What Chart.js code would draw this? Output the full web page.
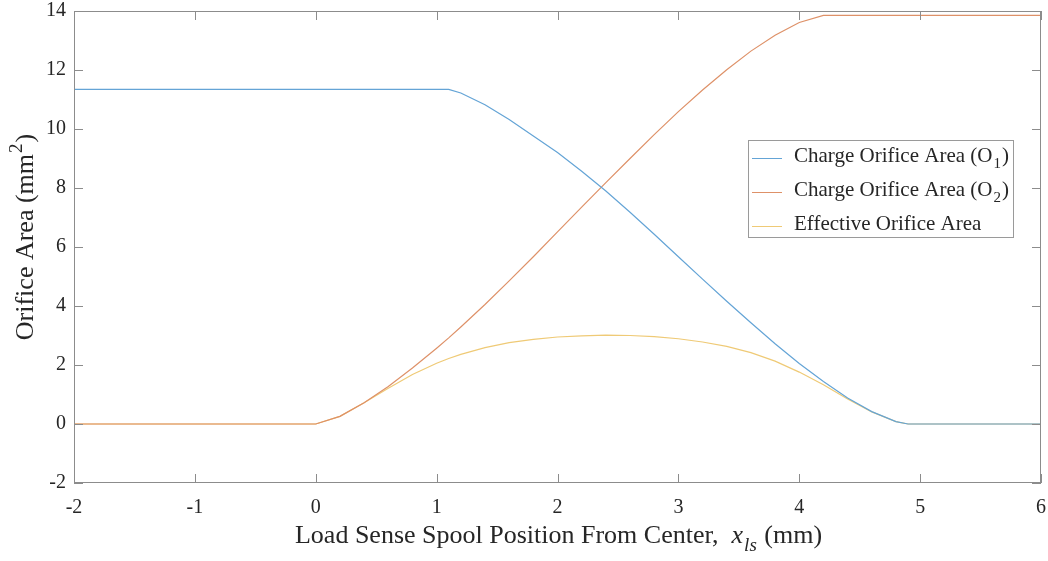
<!DOCTYPE html>
<html>
<head>
<meta charset="utf-8">
<script src="https://cdn.jsdelivr.net/npm/chart.js@4/dist/chart.umd.min.js"></script>
<style>
  html, body { margin: 0; padding: 0; background: #fff; }
  #wrap { width: 1048px; height: 561px; }
</style>
</head>
<body>
<div id="wrap"><canvas id="chart_orifice"></canvas></div>
<script>
// spool position (mm)
var positions = [-2, 0, 0.2, 0.4, 0.6, 0.8, 1.0, 1.1, 1.2, 1.4, 1.6, 1.8, 2.0, 2.2, 2.4, 2.6, 2.8,
	3.0, 3.2, 3.4, 3.6, 3.8, 4.0, 4.2, 4.4, 4.6, 4.8, 4.9, 6];

// orifice areas (mm^2)
var areaO1 = [11.34, 11.34, 11.34, 11.34, 11.34, 11.34, 11.34, 11.34, 11.22, 10.82, 10.32, 9.76, 9.20, 8.57, 7.90, 7.18, 6.43,
	5.67, 4.91, 4.16, 3.43, 2.72, 2.05, 1.44, 0.88, 0.42, 0.08, 0, 0];
var areaO2 = [0, 0, 0.26, 0.72, 1.27, 1.90, 2.57, 2.92, 3.29, 4.05, 4.85, 5.67, 6.51, 7.35, 8.18, 9.00, 9.81,
	10.59, 11.32, 12.01, 12.64, 13.18, 13.61, 13.85, 13.85, 13.85, 13.85, 13.85, 13.85];
var areaEff = [0, 0, 0.26, 0.72, 1.21, 1.68, 2.06, 2.22, 2.36, 2.59, 2.76, 2.87, 2.95, 2.99, 3.01, 3.00, 2.96,
	2.89, 2.78, 2.63, 2.42, 2.13, 1.76, 1.33, 0.85, 0.41, 0.08, 0, 0];

var seriesNames = ['Charge Orifice Area (O', 'Charge Orifice Area (O', 'Effective Orifice Area'];
var seriesSubs = ['1', '2', ''];
var seriesColors = ['#64a4d6', '#de9168', '#efca76'];

var xTicks = [-2, -1, 0, 1, 2, 3, 4, 5, 6];
var yTicks = [-2, 0, 2, 4, 6, 8, 10, 12, 14];

var serif = '"Liberation Serif", "Times New Roman", serif';

function pairs(ys) {
	return positions.map(function (x, i) { return { x: x, y: ys[i] }; });
}

var frame = {
	id: 'frame',
	afterDraw: function (chart) {
		var ctx = chart.ctx;
		var a = chart.chartArea;
		var sx = chart.scales.x;
		var sy = chart.scales.y;
		ctx.save();
		ctx.strokeStyle = '#8c8c8c';
		ctx.lineWidth = 1;
		ctx.strokeRect(Math.round(a.left) + 0.5, Math.round(a.top) + 0.5,
			Math.round(a.right - a.left) - 1, Math.round(a.bottom - a.top) - 1);
		ctx.beginPath();
		xTicks.forEach(function (v) {
			var p = Math.round(sx.getPixelForValue(v)) + 0.5;
			ctx.moveTo(p, a.bottom); ctx.lineTo(p, a.bottom - 9);
			ctx.moveTo(p, a.top); ctx.lineTo(p, a.top + 9);
		});
		yTicks.forEach(function (v) {
			var p = Math.round(sy.getPixelForValue(v)) + 0.5;
			ctx.moveTo(a.left, p); ctx.lineTo(a.left + 9, p);
			ctx.moveTo(a.right, p); ctx.lineTo(a.right - 9, p);
		});
		ctx.stroke();

		ctx.fillStyle = '#262626';
		ctx.textBaseline = 'alphabetic';

		// x axis title with italic subscript
		var base = 543;
		var t1 = 'Load Sense Spool Position From Center,  ';
		ctx.font = '26px ' + serif;
		var w1 = ctx.measureText(t1).width;
		ctx.font = 'italic 26px ' + serif;
		var w2 = ctx.measureText('x').width;
		ctx.font = 'italic 19px ' + serif;
		var w3 = ctx.measureText('ls').width;
		ctx.font = '26px ' + serif;
		var w4 = ctx.measureText(' (mm)').width;
		var x0 = (a.left + a.right) / 2 - (w1 + w2 + w3 + w4) / 2;
		ctx.fillText(t1, x0, base);
		ctx.font = 'italic 26px ' + serif;
		ctx.fillText('x', x0 + w1, base);
		ctx.font = 'italic 19px ' + serif;
		ctx.fillText('ls', x0 + w1 + w2 + 1, base + 8);
		ctx.font = '26px ' + serif;
		ctx.fillText(' (mm)', x0 + w1 + w2 + w3 + 2, base);

		// y axis title with superscript
		ctx.save();
		ctx.translate(33, 238);
		ctx.rotate(-Math.PI / 2);
		ctx.font = '26px ' + serif;
		var y1 = ctx.measureText('Orifice Area (mm').width;
		ctx.font = '19px ' + serif;
		var y2 = ctx.measureText('2').width;
		ctx.font = '26px ' + serif;
		var y3 = ctx.measureText(')').width;
		var s0 = -(y1 + y2 + y3) / 2;
		ctx.fillText('Orifice Area (mm', s0, 0);
		ctx.font = '19px ' + serif;
		ctx.fillText('2', s0 + y1 + 1, -11);
		ctx.font = '26px ' + serif;
		ctx.fillText(')', s0 + y1 + y2 + 2, 0);
		ctx.restore();

		// legend
		var lx = 748, ly = 140, lw = 265, lh = 97;
		ctx.fillStyle = '#fff';
		ctx.fillRect(lx, ly, lw, lh);
		ctx.strokeStyle = '#9a9a9a';
		ctx.strokeRect(lx + 0.5, ly + 0.5, lw, lh);
		chart.data.datasets.forEach(function (ds, i) {
			var yb = 162 + i * 34;
			ctx.strokeStyle = seriesColors[i];
			ctx.beginPath();
			ctx.moveTo(752, yb - 3.5); ctx.lineTo(782, yb - 3.5);
			ctx.stroke();
			ctx.fillStyle = '#262626';
			ctx.font = '21px ' + serif;
			ctx.fillText(seriesNames[i], 794, yb);
			if (seriesSubs[i]) {
				var w = ctx.measureText(seriesNames[i]).width;
				ctx.font = '15px ' + serif;
				ctx.fillText(seriesSubs[i], 794 + w + 1, yb + 6);
				var ws = ctx.measureText(seriesSubs[i]).width;
				ctx.font = '21px ' + serif;
				ctx.fillText(')', 794 + w + ws + 2, yb);
			}
		});
		ctx.restore();
	}
};

var chart_orifice = new Chart(
	document.getElementById('chart_orifice'),
	{
		type: 'scatter',
		data: {
			datasets: [
				{ label: seriesNames[0] + seriesSubs[0] + ')', data: pairs(areaO1) },
				{ label: seriesNames[1] + seriesSubs[1] + ')', data: pairs(areaO2) },
				{ label: seriesNames[2], data: pairs(areaEff) }
			].map(function (ds, i) {
				ds.showLine = true;
				ds.borderColor = seriesColors[i];
				ds.backgroundColor = seriesColors[i];
				ds.borderWidth = 1.2;
				ds.pointRadius = 0;
				ds.tension = 0;
				return ds;
			})
		},
		options: {
			responsive: true,
			maintainAspectRatio: false,
			animation: false,
			layout: { padding: { top: 11, right: 7, left: 0, bottom: 0 } },
			plugins: {
				legend: { display: false },
				tooltip: { enabled: false }
			},
			scales: {
				x: {
					type: 'linear',
					min: -2,
					max: 6,
					afterBuildTicks: function (s) { s.ticks = xTicks.map(function (v) { return { value: v }; }); },
					afterFit: function (s) { s.height = 78; s.paddingLeft = 0; s.paddingRight = 0; },
					grid: { display: false, drawTicks: false },
					border: { display: false },
					ticks: { color: '#262626', padding: 13, font: { family: serif, size: 20 } }
				},
				y: {
					min: -2,
					max: 14,
					afterBuildTicks: function (s) { s.ticks = yTicks.map(function (v) { return { value: v }; }); },
					afterFit: function (s) { s.width = 74; s.paddingTop = 0; s.paddingBottom = 0; },
					grid: { display: false, drawTicks: false },
					border: { display: false },
					ticks: { color: '#262626', padding: 8, font: { family: serif, size: 20 } }
				}
			}
		},
		plugins: [frame]
	}
);
</script>
</body>
</html>
